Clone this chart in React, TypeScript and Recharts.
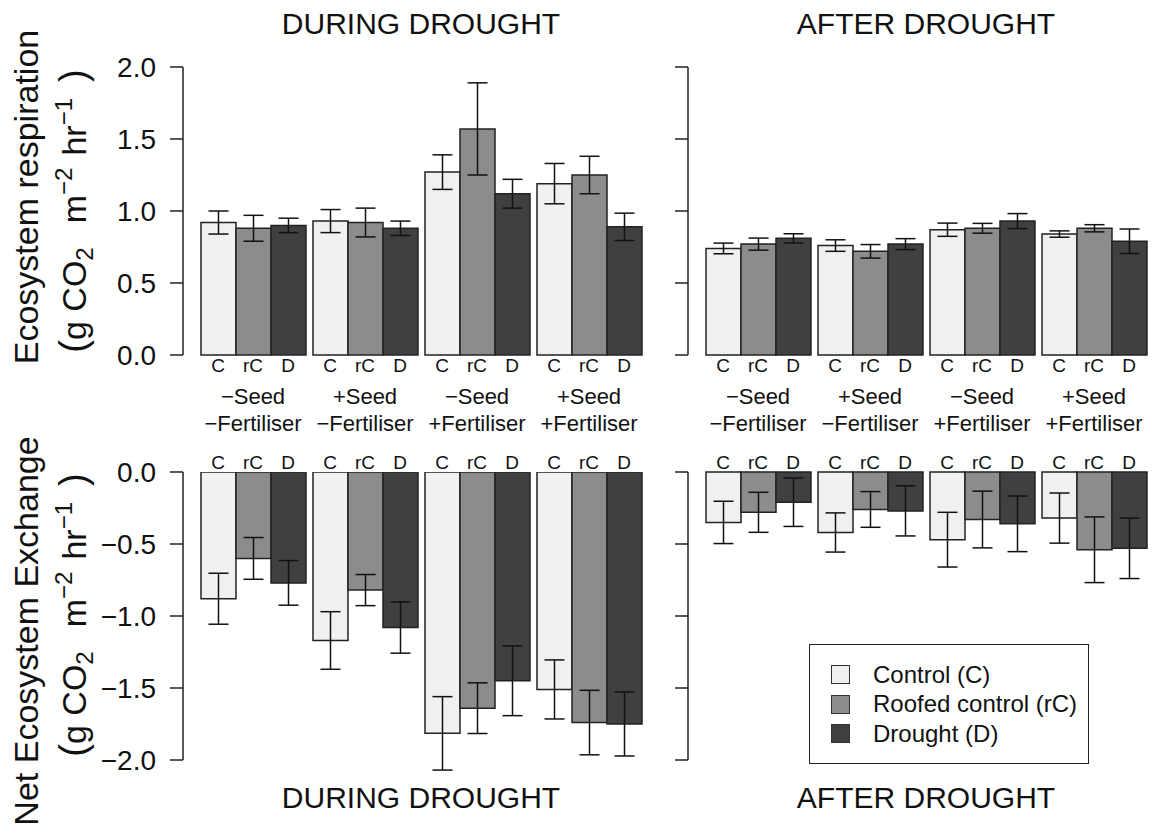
import { BarChart, Bar, XAxis, YAxis, ErrorBar, Legend } from "recharts";

const FONT = '"Liberation Sans", Arial, Helvetica, sans-serif';

const seedLabels = ["−Seed", "+Seed", "−Seed", "+Seed"];
const fertLabels = ["−Fertiliser", "−Fertiliser", "+Fertiliser", "+Fertiliser"];
const treatments = ["C", "rC", "D"];
const treatmentNames = ["Control (C)", "Roofed control (rC)", "Drought (D)"];
const FILLS = ["#f0f0f0", "#8c8c8c", "#404040"];

const erTicks = [0, 0.5, 1, 1.5, 2];
const neeTicks = [-2, -1.5, -1, -0.5, 0];

// Ecosystem respiration, during drought (mean, s.e.)
const erDuringC = [0.92, 0.93, 1.27, 1.19];
const erDuringCErr = [0.08, 0.08, 0.12, 0.14];
const erDuringRC = [0.88, 0.92, 1.57, 1.25];
const erDuringRCErr = [0.09, 0.1, 0.32, 0.13];
const erDuringD = [0.9, 0.88, 1.12, 0.89];
const erDuringDErr = [0.05, 0.05, 0.1, 0.095];

// Ecosystem respiration, after drought
const erAfterC = [0.74, 0.76, 0.87, 0.84];
const erAfterCErr = [0.037, 0.04, 0.046, 0.022];
const erAfterRC = [0.77, 0.72, 0.88, 0.88];
const erAfterRCErr = [0.042, 0.047, 0.034, 0.025];
const erAfterD = [0.81, 0.77, 0.93, 0.79];
const erAfterDErr = [0.032, 0.038, 0.052, 0.085];

// Net ecosystem exchange, during drought
const neeDuringC = [-0.88, -1.17, -1.815, -1.51];
const neeDuringCErr = [0.177, 0.2, 0.255, 0.205];
const neeDuringRC = [-0.6, -0.82, -1.64, -1.74];
const neeDuringRCErr = [0.145, 0.108, 0.176, 0.224];
const neeDuringD = [-0.77, -1.08, -1.45, -1.75];
const neeDuringDErr = [0.155, 0.178, 0.242, 0.222];

// Net ecosystem exchange, after drought
const neeAfterC = [-0.35, -0.42, -0.47, -0.32];
const neeAfterCErr = [0.147, 0.136, 0.19, 0.174];
const neeAfterRC = [-0.28, -0.26, -0.33, -0.54];
const neeAfterRCErr = [0.139, 0.124, 0.197, 0.228];
const neeAfterD = [-0.21, -0.27, -0.36, -0.53];
const neeAfterDErr = [0.168, 0.174, 0.193, 0.21];

const BAR_SIZE = 35;
const AXIS_COLOR = "#222";

type Row = Record<string, number | string>;

function buildRows(means: number[][], errs: number[][]): Row[] {
  return seedLabels.map((seed, g) => {
    const row: Row = { group: `${seed} ${fertLabels[g]}` };
    means.forEach((m, i) => {
      row[`v${i}`] = m[g];
      row[`e${i}`] = errs[i][g];
    });
    return row;
  });
}

const fmt = (v: number) => v.toFixed(1).replace("-", "−");

function GroupTick(props: any) {
  const { x, y, index, labelsOnTop } = props;
  const letterY = labelsOnTop ? y - 3.5 : y + 17;
  return (
    <g fontFamily={FONT} fill="#111">
      {treatments.map((t, i) => (
        <text key={t} x={x + (i - 1) * BAR_SIZE} y={letterY} textAnchor="middle" fontSize={19}>
          {t}
        </text>
      ))}
      {!labelsOnTop && (
        <>
          <text x={x} y={y + 48.5} textAnchor="middle" fontSize={22}>
            {seedLabels[index]}
          </text>
          <text x={x} y={y + 76} textAnchor="middle" fontSize={22}>
            {fertLabels[index]}
          </text>
        </>
      )}
    </g>
  );
}

function LegendBox() {
  return (
    <div
      style={{
        width: 280,
        height: 120,
        boxSizing: "border-box",
        border: `1.5px solid ${AXIS_COLOR}`,
        background: "#fff",
        padding: "15px 0 0 21px",
        fontFamily: FONT,
        fontSize: 24,
        color: "#111",
      }}
    >
      {treatmentNames.map((name, i) => (
        <div key={name} style={{ display: "flex", alignItems: "center", height: 29.5 }}>
          <span
            style={{
              display: "inline-block",
              width: 19,
              height: 19,
              boxSizing: "border-box",
              background: FILLS[i],
              border: "1.5px solid #333",
              marginRight: 23,
            }}
          />
          {name}
        </div>
      ))}
    </div>
  );
}

type PanelProps = {
  rows: Row[];
  left: number;
  top: number;
  width: number;
  height: number;
  yAxisWidth: number;
  margin: { top: number; right: number; bottom: number; left: number };
  xAxisHeight: number;
  domain: [number, number];
  ticks: number[];
  showTickLabels: boolean;
  labelsOnTop: boolean;
  overflow?: boolean;
  legend?: boolean;
};

function Panel(p: PanelProps) {
  return (
    <div style={{ position: "absolute", left: p.left, top: p.top }}>
      <BarChart width={p.width} height={p.height} data={p.rows} margin={p.margin} barGap={0} barSize={BAR_SIZE}>
        <XAxis
          dataKey="group"
          type="category"
          orientation={p.labelsOnTop ? "top" : "bottom"}
          height={p.xAxisHeight}
          padding={{ left: 14, right: 0 }}
          axisLine={false}
          tickLine={false}
          tickSize={0}
          tickMargin={0}
          interval={0}
          tick={<GroupTick labelsOnTop={p.labelsOnTop} />}
        />
        <YAxis
          type="number"
          domain={p.domain}
          ticks={p.ticks}
          allowDataOverflow={!!p.overflow}
          width={p.yAxisWidth}
          interval={0}
          tickSize={13}
          tickMargin={14}
          axisLine={{ stroke: AXIS_COLOR, strokeWidth: 1.5 }}
          tickLine={{ stroke: AXIS_COLOR, strokeWidth: 1.5 }}
          tick={{ fontSize: 28, fill: "#111", fontFamily: FONT }}
          tickFormatter={p.showTickLabels ? fmt : () => ""}
        />
        {treatments.map((t, i) => (
          <Bar key={t} dataKey={`v${i}`} fill={FILLS[i]} stroke={AXIS_COLOR} strokeWidth={1.5} isAnimationActive={false}>
            <ErrorBar dataKey={`e${i}`} direction="y" width={10} stroke="#111" strokeWidth={1.5} isAnimationActive={false} />
          </Bar>
        ))}
        {p.legend && (
          <Legend
            layout="vertical"
            align="center"
            verticalAlign="middle"
            wrapperStyle={{ left: 149, top: 204, width: 280 }}
            content={() => <LegendBox />}
          />
        )}
      </BarChart>
    </div>
  );
}

const topMargin = { top: 67, right: 15, bottom: 5, left: 0 };
const topMarginRight = { top: 67, right: 7, bottom: 5, left: 0 };
const bottomMargin = { top: 0, right: 15, bottom: 67, left: 0 };
const bottomMarginRight = { top: 0, right: 7, bottom: 67, left: 0 };

export default function App() {
  return (
    <div
      style={{
        position: "absolute",
        left: 0,
        top: 0,
        width: 1157,
        height: 827,
        background: "#fff",
        fontFamily: FONT,
        overflow: "hidden",
      }}
    >
      <Panel
        rows={buildRows([erDuringC, erDuringRC, erDuringD], [erDuringCErr, erDuringRCErr, erDuringDErr])}
        left={0}
        top={0}
        width={660}
        height={440}
        yAxisWidth={183}
        margin={topMargin}
        xAxisHeight={80}
        domain={[0, 2]}
        ticks={erTicks}
        showTickLabels
        labelsOnTop={false}
      />
      <Panel
        rows={buildRows([erAfterC, erAfterRC, erAfterD], [erAfterCErr, erAfterRCErr, erAfterDErr])}
        left={660}
        top={0}
        width={497}
        height={440}
        yAxisWidth={28}
        margin={topMarginRight}
        xAxisHeight={80}
        domain={[0, 2]}
        ticks={erTicks}
        showTickLabels={false}
        labelsOnTop={false}
      />
      <Panel
        rows={buildRows([neeDuringC, neeDuringRC, neeDuringD], [neeDuringCErr, neeDuringRCErr, neeDuringDErr])}
        left={0}
        top={440}
        width={660}
        height={387}
        yAxisWidth={183}
        margin={bottomMargin}
        xAxisHeight={32}
        domain={[-2, 0]}
        ticks={neeTicks}
        showTickLabels
        labelsOnTop
        overflow
      />
      <Panel
        rows={buildRows([neeAfterC, neeAfterRC, neeAfterD], [neeAfterCErr, neeAfterRCErr, neeAfterDErr])}
        left={660}
        top={440}
        width={497}
        height={387}
        yAxisWidth={28}
        margin={bottomMarginRight}
        xAxisHeight={32}
        domain={[-2, 0]}
        ticks={neeTicks}
        showTickLabels={false}
        labelsOnTop
        legend
      />

      {/* panel titles and y-axis titles */}
      <svg
        width={1157}
        height={827}
        style={{ position: "absolute", left: 0, top: 0, pointerEvents: "none" }}
        fontFamily={FONT}
        fill="#111"
      >
        <text x={421} y={34} textAnchor="middle" fontSize={30}>DURING DROUGHT</text>
        <text x={926} y={34} textAnchor="middle" fontSize={30}>AFTER DROUGHT</text>
        <text x={421} y={808} textAnchor="middle" fontSize={30}>DURING DROUGHT</text>
        <text x={926} y={808} textAnchor="middle" fontSize={30}>AFTER DROUGHT</text>

        <text transform="translate(38,197) rotate(-90)" textAnchor="middle" fontSize={34}>
          Ecosystem respiration
        </text>
        <UnitLabel x={86} y={211} />
        <text transform="translate(38,631) rotate(-90)" textAnchor="middle" fontSize={34}>
          Net Ecosystem Exchange
        </text>
        <UnitLabel x={86} y={615} />
      </svg>
    </div>
  );
}

// "(g CO2 m-2 hr-1)" with sub/superscripts, written bottom-to-top
function UnitLabel({ x, y }: { x: number; y: number }) {
  return (
    <text transform={`translate(${x},${y}) rotate(-90)`} textAnchor="middle" fontSize={34}>
      <tspan fontSize={38}>(</tspan>
      <tspan>g CO</tspan>
      <tspan dy={7} fontSize={24}>2</tspan>
      <tspan dy={-7} dx={24}>m</tspan>
      <tspan dy={-14} fontSize={24}>−2</tspan>
      <tspan dy={14} dx={12}>hr</tspan>
      <tspan dy={-14} fontSize={24}>−1</tspan>
      <tspan dy={14} dx={16} fontSize={38}>)</tspan>
    </text>
  );
}
